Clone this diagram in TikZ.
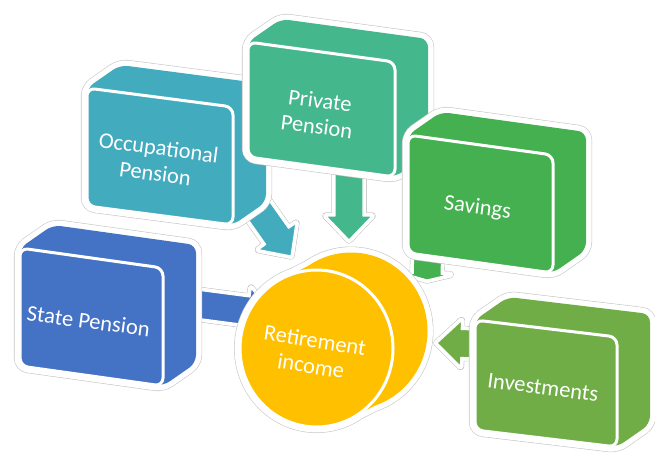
\documentclass[tikz,border=0pt]{standalone}
\usepackage{fontspec}
\setmainfont{Carlito}
\usetikzlibrary{calc}

\definecolor{statecol}{HTML}{4472C4}
\definecolor{occcol}{HTML}{42ABBE}
\definecolor{privcol}{HTML}{45B78C}
\definecolor{savcol}{HTML}{44B050}
\definecolor{invcol}{HTML}{70AD47}
\definecolor{inccol}{HTML}{FFC000}

% extruded box: name, front top-left corner, width, height, drop of top edge, colour, label
\newcommand\cube[7]{%
  \begin{scope}[shift={(#2)}]
    \path[hull, fill=#6] (0,#4) -- (0,0) -- (33,-23) -- ({#3+33},{#5-23})
      -- ({#3+33},{#4+#5-23}) -- (#3,{#4+#5}) -- cycle;
    \path[face, fill=#6] (0,0) -- (#3,#5) -- (#3,{#4+#5}) -- (0,#4) -- cycle;
    \node[lbl] (#1) at ({#3/2-3},{(#4+#5)/2+4}) {#7};
  \end{scope}}

% one layer of a block arrow, shifted by #1
\newcommand\arrowbody[2]{%
  \begin{scope}[shift={#1}]
    \begin{scope}[shift={(\arrfrom)}, rotate=\arrang]
      \path[#2] (0,-14) -- ({\arrlen-\arrhead},-14) -- ({\arrlen-\arrhead},-23) -- (\arrlen,0)
        -- ({\arrlen-\arrhead},23) -- ({\arrlen-\arrhead},14) -- (0,14) -- cycle;
    \end{scope}
  \end{scope}}

% block arrow with depth: [head length] from, to, colour
\newcommand\blockarrow[4][24]{%
  \path let \p1=($(#3)-(#2)$) in
    \pgfextra{\pgfmathsetmacro\arrang{atan2(\y1,\x1)}%
      \pgfmathsetmacro\arrlen{veclen(\x1,\y1)}%
      \xdef\arrang{\arrang}\xdef\arrlen{\arrlen}};
  \def\arrfrom{#2}\def\arrhead{#1}%
  \arrowbody{(7,-5)}{arrhalo}\arrowbody{(0,0)}{arrhalo}%
  \arrowbody{(7,-5)}{arrwhite}\arrowbody{(0,0)}{arrwhite}%
  \arrowbody{(7,-5)}{fill=#4}%
  \arrowbody{(0,0)}{fill=#4, draw=white, line width=1.2pt, line join=round}}

\begin{document}
\begin{tikzpicture}[x=1pt, y=-1pt,
  hull/.style={rounded corners=8pt,
    preaction={draw=black!22, line width=0.6pt, double=white, double distance=11pt}},
  face/.style={rounded corners=8pt, draw=white, line width=3pt},
  arrhalo/.style={draw=black!22, line width=7pt, line join=round},
  arrwhite/.style={draw=white, line width=5.8pt, line join=round},
  lbl/.style={text=white, align=center, rotate=-7.5,
    font=\fontsize{22.5}{26}\selectfont}]
  \useasboundingbox (0,0) rectangle (655,453);

  % arrow ends
  \coordinate (state-out) at (150,298);
  \coordinate (occ-out) at (231,171);
  \coordinate (priv-out) at (349,150);
  \coordinate (sav-out) at (429,200);
  \coordinate (inv-out) at (530,345);
  \coordinate (inc-state) at (272,314);
  \coordinate (inc-occ) at (291,256);
  \coordinate (inc-priv) at (349,240);
  \coordinate (inc-sav) at (427,280);
  \coordinate (inc-inv) at (437,343);

  \blockarrow{state-out}{inc-state}{statecol}
  \blockarrow{occ-out}{inc-occ}{occcol}
  \blockarrow{priv-out}{inc-priv}{privcol}
  \blockarrow[6]{sav-out}{inc-sav}{savcol}
  \blockarrow{inv-out}{inc-inv}{invcol}

  % sources
  \cube{occup}{87,88}{146}{118}{19}{occcol}{Occupational\\Pension}
  \cube{private}{248,42}{147}{115}{20}{privcol}{Private\\Pension}
  \cube{savings}{408,135}{145}{118}{20}{savcol}{Savings}
  \cube{state}{20,248}{143}{118}{20}{statecol}{State Pension}
  \cube{invest}{475,320}{142}{110}{17}{invcol}{Investments}

  % retirement income cylinder
  \coordinate (incf) at (316.5,348.5);
  \coordinate (incb) at (351,331);
  \draw[black!22, line width=12pt, line join=round]
    (incf) ellipse [x radius=76.5pt, y radius=78.5pt]
    (incb) ellipse [x radius=76.5pt, y radius=78.5pt]
    (351.5,417.5) -- (386,400) -- (316,262) -- (281.5,279.5) -- cycle;
  \draw[white, line width=10.8pt, line join=round]
    (incf) ellipse [x radius=76.5pt, y radius=78.5pt]
    (incb) ellipse [x radius=76.5pt, y radius=78.5pt]
    (351.5,417.5) -- (386,400) -- (316,262) -- (281.5,279.5) -- cycle;
  \fill[inccol] (incb) ellipse [x radius=76.5pt, y radius=78.5pt];
  \fill[inccol] (351.5,417.5) -- (386,400) -- (316,262) -- (281.5,279.5) -- cycle;
  \path[fill=inccol, draw=white, line width=3pt]
    (incf) ellipse [x radius=76.5pt, y radius=78.5pt];
  \node[lbl, rotate=-1.5] (income) at (313,353) {Retirement\\income};
\end{tikzpicture}
\end{document}
